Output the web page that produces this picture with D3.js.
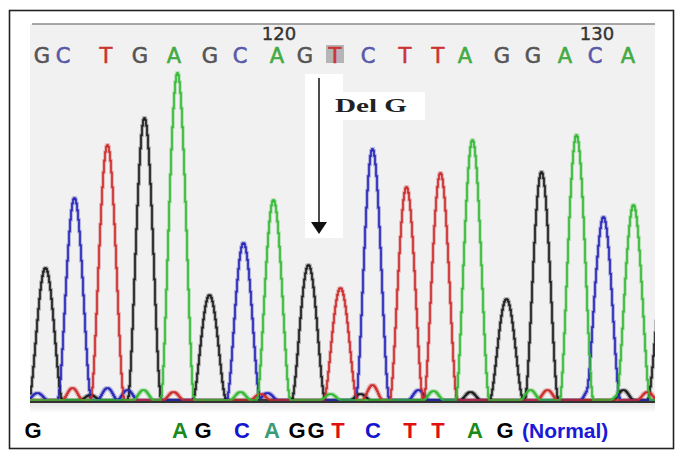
<!DOCTYPE html>
<html>
<head>
<meta charset="utf-8">
<script src="https://cdnjs.cloudflare.com/ajax/libs/d3/7.8.5/d3.min.js"></script>
<style>
  body {margin: 0; background: #fff;}
  svg {display: block;}
</style>
</head>
<body>
<script>
//Data (positions in scan units along the trace)
const bases = ["G","C","T","G","A","G","C","A","G","T","C","T","T","A","G","G","A","C","A"];
const baseScan = [12, 33, 76, 110, 144, 180, 210, 247, 275, 305, 338, 375, 408, 435, 472, 503, 535, 565, 598];
const firstBase = 113;
const tickLabels = [120, 130];
const highlightIndex = 9;

//Peaks: [scan, height]
const peakA = [[147, 327], [243, 200], [442, 260], [546, 265], [603, 195]];
const peakC = [[44, 202], [213, 157], [342, 251], [573, 183]];
const peakG = [[15, 132], [114, 282], [179, 105], [278, 135], [476, 101], [511, 228], [634, 130]];
const peakT = [[77, 255], [310, 112], [376, 213], [410, 227]];
//Small baseline bumps
const noiseA = [[113, 10], [210, 8], [300, 6], [403, 9], [500, 10], [590, 6]];
const noiseC = [[7, 7], [77, 12], [97, 10], [237, 7], [388, 10], [560, 12]];
const noiseG = [[60, 5], [330, 6], [440, 8], [593, 10]];
const noiseT = [[42, 12], [143, 8], [230, 6], [342, 15], [517, 10], [617, 8]];

//Normal sequence written under the trace
const normalSeq = ["G","A","G","C","A","G","G","T","C","T","T","A","G"];
const normalScan = [3, 150, 173, 212, 242, 267, 286, 308, 343, 380, 408, 445, 475];
const normalColor = ["#000","#1a8a1a","#000","#1515d0","#3a9a78","#000","#000","#e01010","#1515d0","#e01010","#e01010","#1a8a1a","#000"];

const deletionScan = 289;

//Variables
const w = 685, h = 461;
const traceColor = {A: "#33b833", C: "#2424b8", G: "#1a1a1a", T: "#cc2a2a"};
const seqColor = {A: "#44aa44", C: "#5858a8", G: "#555", T: "#cc3333"};

const x = d3.scaleLinear().domain([0, 625]).range([30, 655]);
const y = d3.scaleLinear().domain([0, 330]).range([400, 70]);

const svg = d3.select("body").append("svg").attr("width", w).attr("height", h);

//Background of the trace window
svg.append("rect").attr("x", x(0)).attr("y", 24).attr("width", x(625) - x(0)).attr("height", 380).attr("fill", "#f1f1f1");
let defs = svg.append("defs");
let grad = defs.append("linearGradient").attr("id", "fade").attr("x1", 0).attr("x2", 0).attr("y1", 0).attr("y2", 1);
grad.append("stop").attr("offset", 0).attr("stop-color", "#e4e4e4");
grad.append("stop").attr("offset", 1).attr("stop-color", "#fff");
svg.append("rect").attr("x", x(0)).attr("y", 403).attr("width", x(625) - x(0)).attr("height", 10).attr("fill", "url(#fade)");
defs.append("clipPath").attr("id", "clip")
  .append("rect").attr("x", x(0)).attr("y", 20).attr("width", x(625) - x(0)).attr("height", 385);

//White patch behind the annotation
svg.append("rect").attr("x", x(deletionScan) - 14).attr("y", 74).attr("width", 38).attr("height", 164).attr("fill", "#fff");
svg.append("rect").attr("x", x(deletionScan) + 11).attr("y", 92).attr("width", 95).attr("height", 28).attr("fill", "#fff");

//Top gray rule
svg.append("line").attr("x1", 32).attr("x2", x(625)).attr("y1", 24).attr("y2", 24).attr("stroke", "#8a8a8a").attr("stroke-width", 1.5);

//Base calls
svg.append("rect").attr("x", x(baseScan[highlightIndex]) - 9).attr("y", 45).attr("width", 18).attr("height", 18).attr("fill", "#b5b5b5");
svg.selectAll(".base").data(bases).enter()
  .append("text").attr("class", "base")
  .attr("x", (d, i) => x(baseScan[i]))
  .attr("y", 63)
  .attr("text-anchor", "middle")
  .attr("font-family", "DejaVu Sans")
  .attr("font-size", 21)
  .attr("fill", d => seqColor[d])
  .attr("stroke", d => seqColor[d]).attr("stroke-width", 0.6)
  .text(d => d);
svg.selectAll(".tick").data(tickLabels).enter()
  .append("text").attr("class", "tick")
  .attr("x", d => x(baseScan[d - firstBase]) + 2)
  .attr("y", 40)
  .attr("text-anchor", "middle")
  .attr("font-family", "DejaVu Sans")
  .attr("font-size", 18)
  .attr("fill", "#333")
  .attr("stroke", "#333").attr("stroke-width", 0.4)
  .text(d => d);

//Traces (each peak drawn with a compact bell shape)
function bell(s, p, half) {
  let u = (s - p[0]) / half;
  return Math.abs(u) < 1 ? p[1] * (1 - u * u) * (1 - u * u) : 0;
}
function trace(peaks, noise) {
  return d3.range(0, 645, 1).map(s => {
    let v = 0;
    peaks.forEach(p => v += bell(s, p, 17));
    noise.forEach(p => v += bell(s, p, 10));
    return [s, v];
  });
}
const channels = [
  {base: "G", data: trace(peakG, noiseG)},
  {base: "C", data: trace(peakC, noiseC)},
  {base: "T", data: trace(peakT, noiseT)},
  {base: "A", data: trace(peakA, noiseA)}
];
const line = d3.line().x(d => x(d[0])).y(d => y(d[1])).curve(d3.curveStepAfter);
let traces = svg.append("g").attr("clip-path", "url(#clip)");
traces.selectAll(".halo").data(channels).enter()
  .append("path").attr("class", "halo")
  .attr("d", d => line(d.data))
  .attr("fill", "none").attr("stroke", d => traceColor[d.base]).attr("stroke-opacity", 0.35).attr("stroke-width", 3.5);
traces.selectAll(".trace").data(channels).enter()
  .append("path").attr("class", "trace")
  .attr("d", d => line(d.data))
  .attr("fill", "none").attr("stroke", d => traceColor[d.base]).attr("stroke-width", 1.6);

//Baseline
svg.append("line").attr("x1", x(0)).attr("x2", x(625)).attr("y1", 402).attr("y2", 402).attr("stroke", "#333").attr("stroke-width", 2);

//Deletion arrow
let ax = x(deletionScan);
svg.append("line").attr("x1", ax).attr("x2", ax).attr("y1", 78).attr("y2", 224).attr("stroke", "#111").attr("stroke-width", 1.5);
svg.append("path").attr("d", `M${ax - 8},222 L${ax + 8},222 L${ax},234 Z`).attr("fill", "#111");
svg.append("text").attr("x", ax + 16).attr("y", 112)
  .attr("font-family", "Liberation Serif").attr("font-weight", "bold").attr("font-size", 18)
  .attr("textLength", 72).attr("lengthAdjust", "spacingAndGlyphs").attr("fill", "#222")
  .text("Del G");

//Normal sequence
svg.selectAll(".normal").data(normalSeq).enter()
  .append("text").attr("class", "normal")
  .attr("x", (d, i) => x(normalScan[i]))
  .attr("y", 438)
  .attr("text-anchor", "middle")
  .attr("font-family", "Liberation Sans").attr("font-weight", "bold").attr("font-size", 22)
  .attr("fill", (d, i) => normalColor[i])
  .text(d => d);
svg.append("text").attr("x", x(492)).attr("y", 438)
  .attr("font-family", "Liberation Sans").attr("font-weight", "bold").attr("font-size", 21)
  .attr("fill", "#1a1ad8").text("(Normal)");

//Frame
svg.append("rect").attr("x", 9.5).attr("y", 10.5).attr("width", 664).attr("height", 438)
  .attr("fill", "none").attr("stroke", "#222").attr("stroke-width", 1.6);
</script>
</body>
</html>
